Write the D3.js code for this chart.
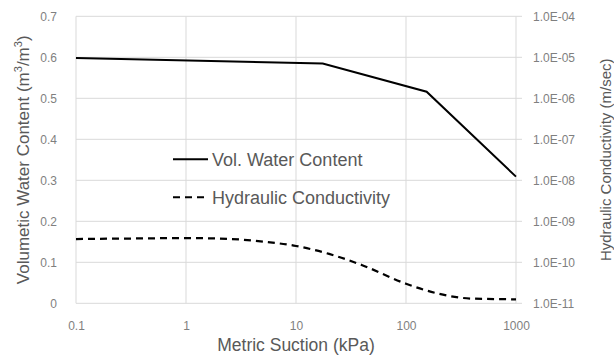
<!DOCTYPE html>
<html>
<head>
<meta charset="utf-8">
<script src="https://cdn.jsdelivr.net/npm/d3@7"></script>
<style>
  body { margin: 0; background: #fff; }
  text { font-family: "Liberation Sans", Arial, sans-serif; }
</style>
</head>
<body>
<div id="chart"></div>
<script>
// suction (kPa) vs volumetric water content
var vwcSuction = [0.1, 17.5, 154, 1000];
var vwcValues = [0.598, 0.585, 0.516, 0.309];

// suction (kPa) vs hydraulic conductivity (m/sec)
var hcSuction = [0.1, 0.3, 1, 2, 5, 10, 20, 40, 100, 200, 400, 1000];
var hcValues = [3.7e-10, 3.8e-10, 3.9e-10, 3.8e-10, 3.2e-10, 2.5e-10, 1.6e-10, 8.5e-11, 3.0e-11, 1.7e-11, 1.3e-11, 1.25e-11];

var xTicks = [0.1, 1, 10, 100, 1000];
var yTicks = [0, 0.1, 0.2, 0.3, 0.4, 0.5, 0.6, 0.7];
var y2Ticks = [1e-11, 1e-10, 1e-9, 1e-8, 1e-7, 1e-6, 1e-5, 1e-4];

var svgWidth = 614;
var svgHeight = 356;
var margin = { top: 16.3, right: 98, bottom: 52.7, left: 76 };
var width = svgWidth - margin.left - margin.right;
var height = svgHeight - margin.top - margin.bottom;

var svg = d3.select("#chart")
  .append("svg")
  .attr("width", svgWidth)
  .attr("height", svgHeight);

var g = svg.append("g")
  .attr("transform", `translate(${margin.left},${margin.top})`);

var x = d3.scaleLog().domain([0.1, 1000]).range([0, width]);
var y = d3.scaleLinear().domain([0, 0.7]).range([height, 0]);
var y2 = d3.scaleLog().domain([1e-11, 1e-4]).range([height, 0]);

var grid = "#d9d9d9";
var tickColor = "#7f7f7f";
var titleColor = "#595959";

// horizontal gridlines
g.selectAll(".hgrid")
  .data(yTicks)
  .enter()
  .append("line")
  .attr("x1", 0)
  .attr("x2", width + 6)
  .attr("y1", d => y(d))
  .attr("y2", d => y(d))
  .attr("stroke", grid)
  .attr("stroke-width", 1);

// vertical gridlines
g.selectAll(".vgrid")
  .data(xTicks)
  .enter()
  .append("line")
  .attr("x1", d => x(d))
  .attr("x2", d => x(d))
  .attr("y1", 0)
  .attr("y2", height)
  .attr("stroke", grid)
  .attr("stroke-width", 1);

// left axis
var yAxis = g.append("g")
  .call(d3.axisLeft(y).tickValues(yTicks).tickSize(0).tickPadding(19).tickFormat(d3.format("")));
yAxis.select(".domain").remove();
yAxis.selectAll("text").attr("fill", tickColor).style("font-size", "12px");

// right axis
var y2Axis = g.append("g")
  .attr("transform", `translate(${width},0)`)
  .call(d3.axisRight(y2).tickValues(y2Ticks).tickSize(0).tickPadding(17)
    .tickFormat(d => "1.0E-" + String(Math.round(-Math.log10(d))).padStart(2, "0")));
y2Axis.select(".domain").remove();
y2Axis.selectAll("text").attr("fill", tickColor).style("font-size", "12px");

// bottom axis
var xAxis = g.append("g")
  .attr("transform", `translate(0,${height})`)
  .call(d3.axisBottom(x).tickValues(xTicks).tickSize(0).tickPadding(18).tickFormat(d3.format("")));
xAxis.select(".domain").remove();
xAxis.selectAll("text").attr("fill", tickColor).style("font-size", "12px");

// series
var vwcData = vwcSuction.map((s, i) => [s, vwcValues[i]]);
var hcData = hcSuction.map((s, i) => [s, hcValues[i]]);

g.append("path")
  .datum(vwcData)
  .attr("fill", "none")
  .attr("stroke", "#000")
  .attr("stroke-width", 2)
  .attr("d", d3.line().x(d => x(d[0])).y(d => y(d[1])));

g.append("path")
  .datum(hcData)
  .attr("fill", "none")
  .attr("stroke", "#000")
  .attr("stroke-width", 2.25)
  .attr("stroke-dasharray", "7,5")
  .attr("d", d3.line().curve(d3.curveMonotoneX).x(d => x(d[0])).y(d => y2(d[1])));

// legend
var legend = [
  { name: "Vol. Water Content", dash: null, y: 159.3 },
  { name: "Hydraulic Conductivity", dash: "7,5", y: 197.3 }
];
legend.forEach(function (l) {
  svg.append("line")
    .attr("x1", 173).attr("x2", 208)
    .attr("y1", l.y).attr("y2", l.y)
    .attr("stroke", "#000")
    .attr("stroke-width", 2)
    .attr("stroke-dasharray", l.dash);
  svg.append("text")
    .attr("x", 212)
    .attr("y", l.y)
    .attr("dy", "0.35em")
    .attr("fill", titleColor)
    .style("font-size", "18px")
    .text(l.name);
});

// axis titles
svg.append("text")
  .attr("x", margin.left + width / 2)
  .attr("y", 351)
  .attr("text-anchor", "middle")
  .attr("fill", titleColor)
  .style("font-size", "17.5px")
  .text("Metric Suction (kPa)");

var leftTitle = svg.append("text")
  .attr("transform", `translate(29,${margin.top + height / 2}) rotate(-90)`)
  .attr("text-anchor", "middle")
  .attr("fill", titleColor)
  .style("font-size", "17px");
leftTitle.append("tspan").text("Volumetic Water Content (m");
leftTitle.append("tspan").attr("dy", -7).style("font-size", "11px").text("3");
leftTitle.append("tspan").attr("dy", 7).text("/m");
leftTitle.append("tspan").attr("dy", -7).style("font-size", "11px").text("3");
leftTitle.append("tspan").attr("dy", 7).text(")");

svg.append("text")
  .attr("transform", `translate(611,${margin.top + height / 2}) rotate(-90)`)
  .attr("text-anchor", "middle")
  .attr("fill", titleColor)
  .style("font-size", "15px")
  .text("Hydraulic Conductivity (m/sec)");
</script>
</body>
</html>
